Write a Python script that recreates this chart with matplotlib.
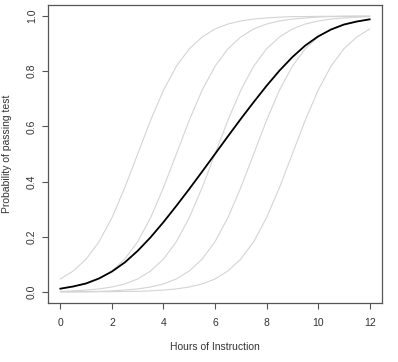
import matplotlib
matplotlib.use("Agg")
import matplotlib.pyplot as plt

plt.rcParams['font.family'] = ['Liberation Sans', 'DejaVu Sans']

hours = [0, 0.5, 1, 1.5, 2, 2.5, 3, 3.5, 4, 4.5, 5, 5.5, 6, 6.5, 7, 7.5, 8,
         8.5, 9, 9.5, 10, 10.5, 11, 11.5, 12]

gray_a = [0.047, 0.076, 0.119, 0.182, 0.269, 0.378, 0.500, 0.622, 0.731, 0.818,
          0.881, 0.924, 0.953, 0.971, 0.982, 0.989, 0.993, 0.996, 0.998, 0.998,
          0.999, 0.999, 1.000, 1.000, 1.000]
gray_b = [0.011, 0.018, 0.029, 0.047, 0.076, 0.119, 0.182, 0.269, 0.378, 0.500,
          0.622, 0.731, 0.818, 0.881, 0.924, 0.953, 0.971, 0.982, 0.989, 0.993,
          0.996, 0.998, 0.998, 0.999, 0.999]
gray_c = [0.002, 0.004, 0.007, 0.011, 0.018, 0.029, 0.047, 0.076, 0.119, 0.182,
          0.269, 0.378, 0.500, 0.622, 0.731, 0.818, 0.881, 0.924, 0.953, 0.971,
          0.982, 0.989, 0.993, 0.996, 0.998]
gray_d = [0.001, 0.001, 0.002, 0.002, 0.004, 0.007, 0.011, 0.018, 0.029, 0.047,
          0.076, 0.119, 0.182, 0.269, 0.378, 0.500, 0.622, 0.731, 0.818, 0.881,
          0.924, 0.953, 0.971, 0.982, 0.989]
gray_e = [0.000, 0.000, 0.000, 0.001, 0.001, 0.002, 0.002, 0.004, 0.007, 0.011,
          0.018, 0.029, 0.047, 0.076, 0.119, 0.182, 0.269, 0.378, 0.500, 0.622,
          0.731, 0.818, 0.881, 0.924, 0.953]
mean_curve = [0.012, 0.020, 0.031, 0.049, 0.074, 0.107, 0.149, 0.198, 0.253, 0.312,
              0.373, 0.436, 0.500, 0.564, 0.627, 0.688, 0.747, 0.802, 0.851, 0.893,
              0.926, 0.951, 0.969, 0.980, 0.988]

x_ticks = [0, 2, 4, 6, 8, 10, 12]
y_ticks = [0.0, 0.2, 0.4, 0.6, 0.8, 1.0]
y_tick_labels = ["0.0", "0.2", "0.4", "0.6", "0.8", "1.0"]

W, H = 398, 362
fig = plt.figure(figsize=(W / 100, H / 100), dpi=100)
ax = fig.add_axes([48 / W, 59 / H, 334 / W, 298 / H])

for g in (gray_a, gray_b, gray_c, gray_d, gray_e):
    ax.plot(hours, g, color='#d4d4d4', lw=0.8)
ax.plot(hours, mean_curve, color='black', lw=1.3)

ax.set_xlim(-0.48, 12.48)
ax.set_ylim(-0.04, 1.04)
ax.set_xticks(x_ticks)
ax.set_xticklabels([str(t) for t in x_ticks])
ax.set_yticks(y_ticks)
ax.set_yticklabels(y_tick_labels)

for s in ax.spines.values():
    s.set_color('#555555')
    s.set_linewidth(0.9)

ax.tick_params(axis='both', direction='out', length=4.3, width=0.8,
               color='#555555', labelcolor='#333333', labelsize=7.5)
ax.tick_params(axis='x', pad=6.8)
ax.tick_params(axis='y', pad=3.8)
for lab in ax.get_yticklabels():
    lab.set_rotation(90)
    lab.set_va('center')

fig.text(215 / W, 1 - 347 / H, "Hours of Instruction", ha='center', va='center',
         fontsize=7.5, color='#333333')
fig.text(7 / W, 1 - 154 / H, "Probability of passing test", ha='center',
         va='center', rotation=90, fontsize=7.5, color='#333333')

fig.savefig("out.png", dpi=100)
